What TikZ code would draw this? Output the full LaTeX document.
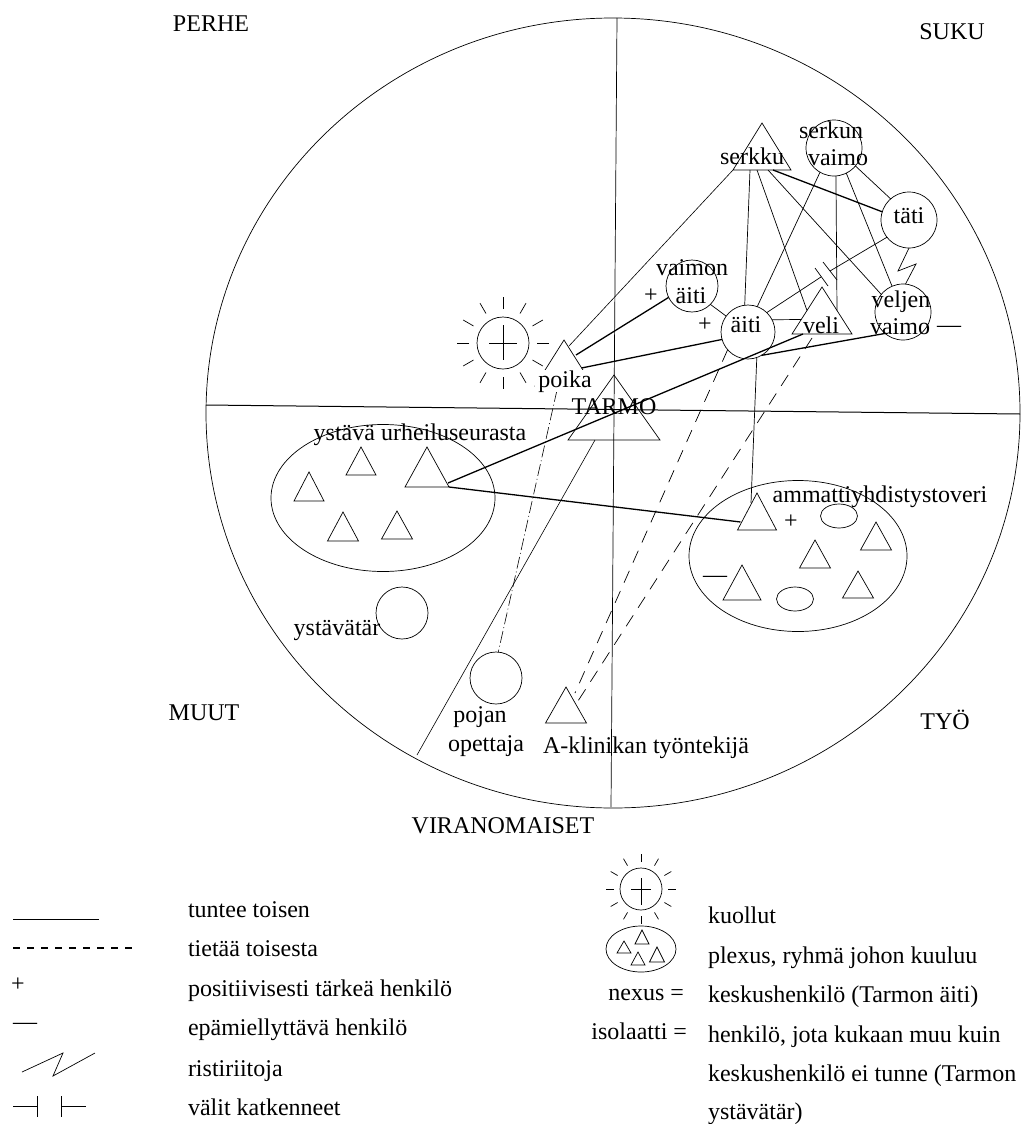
\documentclass[tikz,border=0pt]{standalone}
\usepackage{fontspec}
\setmainfont{Liberation Serif}
\usetikzlibrary{shapes.geometric}

\begin{document}
\begin{tikzpicture}[x=1pt,y=-1pt,line width=0.7pt,
    every node/.style={inner sep=0pt,outer sep=0pt,font=\fontsize{24}{28}\selectfont},
    henkilo/.style={circle,draw,minimum size=#1},
    kolmio/.style 2 args={isosceles triangle,isosceles triangle stretches,shape border rotate=90,
      draw,anchor=lower side,minimum width=#1,minimum height=#2},
    plexus/.style 2 args={ellipse,draw,minimum width=#1,minimum height=#2},
    teksti/.style={anchor=base},
    selite/.style={anchor=base west},
    vahva/.style={line width=1.3pt},
    katko/.style={dash pattern=on 13pt off 9pt},
    pistekatko/.style={line width=0.6pt,dash pattern=on 12pt off 3pt on 1pt off 3pt}]
  \useasboundingbox (0,0) rectangle (1023,1124);

  % sectors
  \node[plexus={814}{790}] at (613, 413) (Kartta) {};
  \coordinate (PohjoinenA) at (617, 18);
  \coordinate (EtelaA) at (611, 807);
  \coordinate (LansiA) at (206, 405);
  \coordinate (ItaA) at (1020, 414);
  \coordinate (ViistoA) at (417, 755);
  \draw (PohjoinenA) -- (EtelaA);
  \draw[line width=1pt] (LansiA) -- (ItaA);

  % persons
  \node[kolmio={58}{47}] at (762, 170) (Serkku) {};
  \node[henkilo=56] at (834, 148) (SerkunVaimo) {};
  \node[henkilo=56] at (909, 220) (Tati) {};
  \node[henkilo=52] at (692, 286) (VaimonAiti) {};
  \node[henkilo=54] at (748, 332) (Aiti) {};
  \node[kolmio={60}{47}] at (822, 334) (Veli) {};
  \node[henkilo=56] at (903, 312) (VeljenVaimo) {};
  \node[kolmio={58}{46}] at (564, 386) (Poika) {};
  \node[kolmio={92}{65}] at (614, 440) (Tarmo) {};
  \node[henkilo=52] at (503, 343) (Aurinko) {};

  % plexus left
  \node[plexus={224}{147}] at (383, 498) (PlexusA) {};
  \node[kolmio={30}{29}] at (309, 501) (KaA) {};
  \node[kolmio={30}{28}] at (361, 475) (KaB) {};
  \node[kolmio={44}{40}] at (427, 487) (Ystava) {};
  \node[kolmio={31}{29}] at (343, 541) (KaC) {};
  \node[kolmio={31}{28}] at (397, 539) (KaD) {};

  % plexus right
  \node[plexus={218}{151}] at (798, 556) (PlexusB) {};
  \node[kolmio={39}{37}] at (757, 530) (Ammatti) {};
  \node[kolmio={31}{28}] at (876, 550) (KbA) {};
  \node[kolmio={31}{28}] at (815, 568) (KbB) {};
  \node[kolmio={38}{35}] at (742, 600) (KbC) {};
  \node[kolmio={31}{27}] at (858, 598) (KbD) {};
  \node[plexus={37}{24}] at (839, 516) (NaisA) {};
  \node[plexus={37}{24}] at (795, 599) (NaisB) {};

  \node[henkilo=52] at (402, 613) (Ystavatar) {};
  \node[henkilo=52] at (496, 678) (Opettaja) {};
  \node[kolmio={41}{36}] at (566, 723) (Klinikka) {};

  \coordinate (Zig) at (898, 271);
  \coordinate (Zag) at (916, 264);
  \coordinate (KatkoA) at (830, 271);
  \coordinate (KatkoB) at (821, 277);
  \coordinate (TikkiA) at (823, 262);
  \coordinate (TikkiB) at (837, 280);
  \coordinate (TikkiC) at (815, 268);
  \coordinate (TikkiD) at (828, 286);

  \draw[line width=0.6pt] (Serkku.left corner) -- ([xshift=5pt,yshift=-6pt]Poika.apex);
  \draw ([xshift=-12pt]Serkku.lower side) -- (Aiti.97);
  \draw ([xshift=-5pt]Serkku.lower side) -- (Veli.left side);
  \draw ([xshift=6pt]Serkku.lower side) -- (VeljenVaimo.141);
  \draw[vahva] ([xshift=11pt]Serkku.lower side) -- (Tati.163);
  \draw (SerkunVaimo.240) -- (Aiti.70);
  \draw (SerkunVaimo.274) -- (Veli.right side);
  \draw (SerkunVaimo.296) -- (VeljenVaimo.113);
  \draw (SerkunVaimo.320) -- (Tati.131);
  \draw (Tati.270) -- (Zig) -- (Zag) -- (VeljenVaimo.85);
  \draw (Tati.218) -- (KatkoA);
  \draw (TikkiA) -- (TikkiB);
  \draw (TikkiC) -- (TikkiD);
  \draw (KatkoB) -- (Aiti.46);
  \draw (VaimonAiti.315) -- (Aiti.144);
  \draw[vahva] (VaimonAiti.206) -- ([xshift=12pt,yshift=-15pt]Poika.apex);
  \draw[vahva] (Aiti.196) -- ([xshift=3pt,yshift=-5pt]Poika.right side);
  \draw (Aiti.27) -- ([xshift=-6pt,yshift=-9pt]Veli.left side);
  \draw[vahva] ([xshift=11pt]Veli.left corner) -- ([xshift=-1pt,yshift=4pt]Ystava.right corner);
  \draw[vahva] (VeljenVaimo.230) -- (Aiti.300);
  \draw (Aiti.289) -- ([xshift=-6pt,yshift=-10pt]Ammatti.apex);
  \draw[vahva] (Ystava.right corner) -- ([xshift=3pt,yshift=8pt]Ammatti.left corner);
  \draw[line width=0.6pt] ([xshift=-19pt]Tarmo.lower side) -- (ViistoA);
  \draw[pistekatko] ([xshift=-7pt,yshift=-4pt]Poika.lower side) -- (Opettaja.85);
  \draw[katko] (Aiti.221) -- ([xshift=9pt,yshift=-6pt]Klinikka.apex);
  \draw[katko] ([xshift=-10pt,yshift=-4pt]Veli.lower side) -- ([xshift=12pt,yshift=-14pt]Klinikka.apex);

  \foreach \a in {0,30,...,330}
    \draw ([shift=(\a:34)]Aurinko.center) -- ([shift=(\a:46)]Aurinko.center);
  \draw ([yshift=18pt]Aurinko.center) -- ([yshift=-17pt]Aurinko.center);
  \draw ([xshift=-14pt]Aurinko.center) -- ([xshift=14pt]Aurinko.center);

  % texts of the map
  \node[teksti] at (211, 32) (TxPerhe) {PERHE};
  \node[teksti] at (952, 40) (TxSuku) {SUKU};
  \node[teksti] at (204, 720) (TxMuut) {MUUT};
  \node[teksti] at (945, 729) (TxTyo) {TYÖ};
  \node[teksti] at (503, 833) (TxViranomaiset) {VIRANOMAISET};
  \node[teksti] at (752, 164) (TxSerkku) {serkku};
  \node[teksti] at (831, 138) (TxSerkun) {serkun};
  \node[teksti] at (838, 165) (TxSerkunB) {vaimo};
  \node[teksti] at (909, 223) (TxTati) {täti};
  \node[teksti] at (692, 275) (TxVaimon) {vaimon};
  \node[teksti] at (691, 303) (TxVaimonB) {äiti};
  \node[teksti] at (746, 332) (TxAiti) {äiti};
  \node[teksti] at (821, 333) (TxVeli) {veli};
  \node[teksti] at (901, 307) (TxVeljen) {veljen};
  \node[teksti] at (900, 334) (TxVeljenB) {vaimo};
  \node[teksti,fill=white,inner xsep=3pt] at (565, 387) (TxPoika) {poika};
  \node[teksti] at (614, 414) (TxTarmo) {TARMO};
  \node[teksti] at (420, 440) (TxYstava) {ystävä urheiluseurasta};
  \node[teksti] at (880, 502) (TxAmmatti) {ammattiyhdistystoveri};
  \node[teksti] at (337, 635) (TxYstavatar) {ystävätär};
  \node[teksti] at (480, 722) (TxPojan) {pojan};
  \node[teksti] at (486, 751) (TxOpettaja) {opettaja};
  \node[teksti] at (646, 753) (TxKlinikka) {A-klinikan työntekijä};
  \node at (651, 296) (PlusA) {+};
  \node at (705, 325) (PlusB) {+};
  \node at (791, 522) (PlusC) {+};
  \node at (949, 329) (MiinusA) {—};
  \node at (715, 579) (MiinusB) {—};

  % legend
  \coordinate (SolidA) at (13, 919);
  \coordinate (SolidB) at (99, 919);
  \coordinate (KatkoC) at (13, 948);
  \coordinate (KatkoD) at (135, 948);
  \coordinate (LeimaA) at (22, 1072);
  \coordinate (LeimaB) at (63, 1053);
  \coordinate (LeimaC) at (53, 1076);
  \coordinate (LeimaD) at (95, 1053);
  \coordinate (VaA) at (13, 1106);
  \coordinate (VaB) at (37, 1106);
  \coordinate (VaC) at (61, 1106);
  \coordinate (VaD) at (86, 1106);
  \draw[line width=1pt] (SolidA) -- (SolidB);
  \draw[dash pattern=on 7pt off 7pt,line width=1.2pt] (KatkoC) -- (KatkoD);
  \node at (18, 985) (LePlus) {+};
  \node at (25, 1026) (LeMiinus) {—};
  \draw (LeimaA) -- (LeimaB) -- (LeimaC) -- (LeimaD);
  \draw (VaA) -- (VaB);
  \draw (VaC) -- (VaD);
  \draw ([yshift=10pt]VaB) -- ([yshift=-11pt]VaB);
  \draw ([yshift=10pt]VaC) -- ([yshift=-11pt]VaC);
  \node[selite] at (188, 917) (LeA) {tuntee toisen};
  \node[selite] at (188, 956) (LeB) {tietää toisesta};
  \node[selite] at (188, 996) (LeC) {positiivisesti tärkeä henkilö};
  \node[selite] at (188, 1035) (LeD) {epämiellyttävä henkilö};
  \node[selite] at (188, 1076) (LeE) {ristiriitoja};
  \node[selite] at (188, 1115) (LeF) {välit katkenneet};

  \node[henkilo=42] at (641, 889) (AurinkoB) {};
  \foreach \a in {0,30,...,330}
    \draw ([shift=(\a:27)]AurinkoB.center) -- ([shift=(\a:35)]AurinkoB.center);
  \draw ([yshift=11pt]AurinkoB.center) -- ([yshift=-16pt]AurinkoB.center);
  \draw ([xshift=-10pt]AurinkoB.center) -- ([xshift=10pt]AurinkoB.center);
  \node[plexus={70}{46}] at (641, 949) (PlexusC) {};
  \node[kolmio={14}{12}] at (624, 953) (KcA) {};
  \node[kolmio={14}{14}] at (642, 944) (KcB) {};
  \node[kolmio={14}{13}] at (638, 965) (KcC) {};
  \node[kolmio={15}{15}] at (657, 962) (KcD) {};
  \node[selite] at (708, 923) (ReA) {kuollut};
  \node[selite] at (708, 963) (ReB) {plexus, ryhmä johon kuuluu};
  \node[anchor=base east] at (684, 1000) (ReNexus) {nexus =};
  \node[selite] at (708, 1002) (ReC) {keskushenkilö (Tarmon äiti)};
  \node[anchor=base east] at (687, 1039) (ReIso) {isolaatti =};
  \node[selite] at (708, 1042) (ReD) {henkilö, jota kukaan muu kuin};
  \node[selite] at (708, 1081) (ReE) {keskushenkilö ei tunne (Tarmon};
  \node[selite] at (708, 1119) (ReF) {ystävätär)};
\end{tikzpicture}
\end{document}
